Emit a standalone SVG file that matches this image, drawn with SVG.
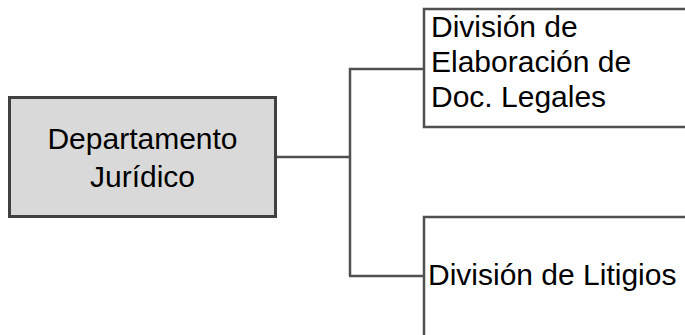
<svg xmlns="http://www.w3.org/2000/svg" width="685" height="335" viewBox="0 0 685 335">
<style>
.t{font-family:"Liberation Sans",Arial,sans-serif;font-size:30px;fill:#000}
.c{fill:none;stroke:#505050;stroke-width:2.5}
</style>
<rect width="685" height="335" fill="#fff"/>
<g id="connectors">
<path class="c" d="M276 157H350M350 68V276M349 69H425M349 276H425"/>
</g>
<g id="n1">
<rect x="9.5" y="97.5" width="266" height="119" fill="#d9d9d9" stroke="#404040" stroke-width="3"/>
<text class="t" x="142.5" y="149" text-anchor="middle">Departamento</text>
<text class="t" x="142.5" y="187" text-anchor="middle">Jurídico</text>
</g>
<g id="n2">
<rect x="424" y="9" width="270" height="118" fill="#fff" stroke="#505050" stroke-width="2.5"/>
<text class="t" x="431" y="37">División de</text>
<text class="t" x="431" y="72">Elaboración de</text>
<text class="t" x="431" y="107">Doc. Legales</text>
</g>
<g id="n3">
<rect x="424" y="217" width="270" height="130" fill="#fff" stroke="#505050" stroke-width="2.5"/>
<text class="t" x="428" y="285">División de Litigios</text>
</g>
</svg>
